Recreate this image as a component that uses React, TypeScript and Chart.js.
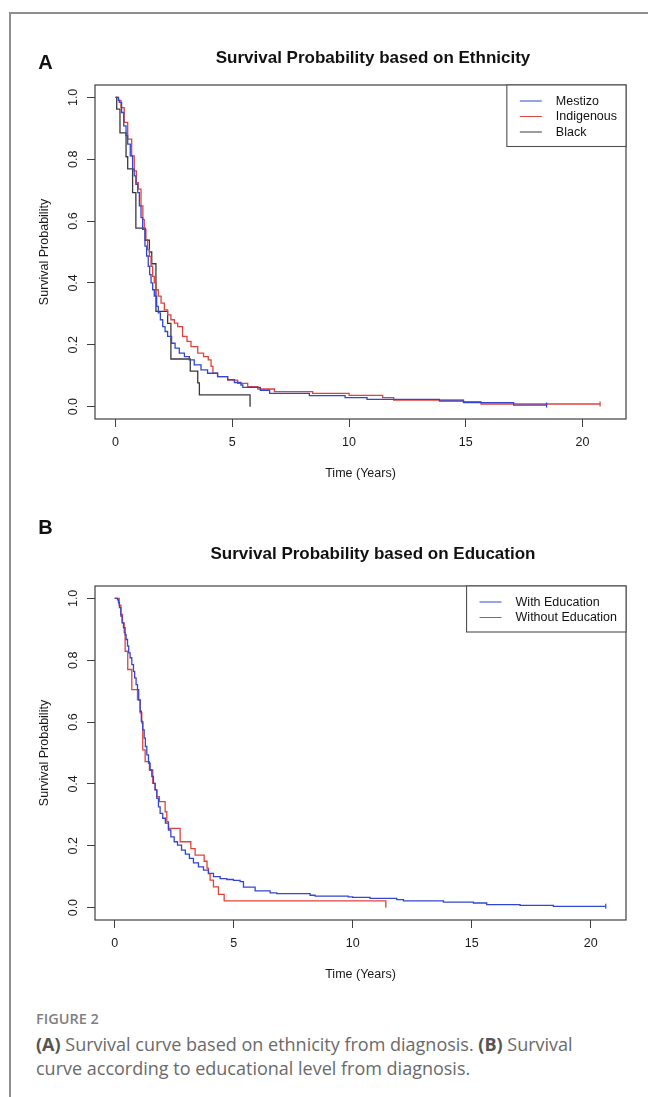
import React, { useEffect, useRef } from "react";
import { Chart, registerables } from "chart.js";

Chart.register(...registerables);

// ---------------- data ----------------
const xTickValues = [0, 5, 10, 15, 20];
const yTickValues = [0, 0.2, 0.4, 0.6, 0.8, 1.0];
const yTickLabels = ["0.0", "0.2", "0.4", "0.6", "0.8", "1.0"];

const panelATitle = "Survival Probability based on Ethnicity";
const panelBTitle = "Survival Probability based on Education";
const xAxisTitle = "Time (Years)";
const yAxisTitle = "Survival Probability";

const ethnicityLabels = ["Mestizo", "Indigenous", "Black"];
const educationLabels = ["With Education", "Without Education"];

// Panel A — Mestizo
const mestizoTime = [0, 0.12, 0.16, 0.26, 0.35, 0.45, 0.52, 0.63, 0.73, 0.8, 0.87, 0.95, 1.02, 1.09, 1.16, 1.26, 1.33, 1.4, 1.46, 1.52, 1.59, 1.66, 1.76, 1.83, 1.92, 2.02, 2.12, 2.23, 2.4, 2.55, 2.73, 2.95, 3.16, 3.37, 3.66, 3.94, 4.37, 4.8, 5.09, 5.37, 5.45, 6.2, 6.6, 8.3, 9.83, 10.77, 13.87, 14.9, 17.05, 18.46];
const mestizoSurv = [1, 0.99, 0.984, 0.951, 0.908, 0.876, 0.849, 0.811, 0.768, 0.746, 0.719, 0.692, 0.649, 0.611, 0.573, 0.519, 0.487, 0.454, 0.427, 0.4, 0.378, 0.357, 0.324, 0.303, 0.281, 0.259, 0.243, 0.227, 0.205, 0.189, 0.173, 0.162, 0.151, 0.135, 0.119, 0.108, 0.097, 0.087, 0.078, 0.07, 0.062, 0.053, 0.043, 0.0357, 0.029, 0.0236, 0.0182, 0.0127, 0.005, 0.005];

// Panel A — Indigenous
const indigenousTime = [0, 0.13, 0.23, 0.37, 0.52, 0.69, 0.8, 0.89, 0.97, 1.09, 1.17, 1.23, 1.3, 1.37, 1.45, 1.52, 1.59, 1.66, 1.73, 1.83, 1.95, 2.09, 2.23, 2.37, 2.52, 2.66, 2.87, 3.06, 3.23, 3.52, 3.77, 3.97, 4.09, 4.17, 4.37, 4.8, 5.23, 5.66, 6.09, 6.8, 8.44, 10.0, 11.44, 11.91, 14.9, 15.65, 20.75];
const indigenousSurv = [1, 0.99, 0.967, 0.919, 0.865, 0.811, 0.762, 0.724, 0.703, 0.649, 0.605, 0.573, 0.54, 0.508, 0.486, 0.454, 0.421, 0.4, 0.378, 0.357, 0.335, 0.313, 0.297, 0.281, 0.27, 0.259, 0.227, 0.211, 0.194, 0.173, 0.162, 0.151, 0.13, 0.108, 0.097, 0.086, 0.075, 0.065, 0.057, 0.0485, 0.043, 0.0367, 0.029, 0.0215, 0.016, 0.0085, 0.0085];

// Panel A — Black
const blackTime = [0, 0.05, 0.19, 0.45, 0.52, 0.73, 0.87, 1.27, 1.45, 1.55, 1.73, 2.23, 2.37, 3.2, 3.52, 3.59, 5.76];
const blackSurv = [1, 0.962, 0.885, 0.808, 0.769, 0.692, 0.577, 0.538, 0.5, 0.462, 0.308, 0.269, 0.154, 0.115, 0.077, 0.038, 0.0];

// Panel B — With Education
const withEduTime = [0, 0.05, 0.12, 0.16, 0.2, 0.26, 0.31, 0.37, 0.44, 0.48, 0.54, 0.59, 0.65, 0.72, 0.79, 0.84, 0.9, 0.96, 1.01, 1.07, 1.12, 1.18, 1.24, 1.29, 1.35, 1.42, 1.49, 1.56, 1.63, 1.7, 1.77, 1.84, 1.91, 2.02, 2.13, 2.26, 2.36, 2.5, 2.64, 2.81, 2.97, 3.14, 3.31, 3.52, 3.73, 3.94, 4.15, 4.43, 4.71, 4.99, 5.27, 5.41, 5.9, 6.53, 6.81, 8.21, 8.42, 9.81, 10.0, 10.73, 11.85, 12.13, 13.81, 15.07, 15.63, 17.03, 18.43, 20.63];
const withEduSurv = [1, 1, 0.995, 0.986, 0.97, 0.943, 0.921, 0.905, 0.883, 0.867, 0.846, 0.824, 0.808, 0.786, 0.764, 0.743, 0.721, 0.705, 0.672, 0.635, 0.602, 0.575, 0.548, 0.521, 0.494, 0.467, 0.445, 0.424, 0.402, 0.381, 0.353, 0.326, 0.305, 0.289, 0.273, 0.251, 0.229, 0.213, 0.202, 0.186, 0.173, 0.159, 0.145, 0.132, 0.121, 0.111, 0.1, 0.094, 0.091, 0.088, 0.084, 0.066, 0.054, 0.048, 0.045, 0.04, 0.037, 0.035, 0.033, 0.03, 0.026, 0.022, 0.018, 0.015, 0.01, 0.0074, 0.0043, 0.0043];

// Panel B — Without Education
const withoutEduTime = [0, 0.19, 0.26, 0.33, 0.4, 0.44, 0.55, 0.72, 0.96, 1.07, 1.14, 1.18, 1.28, 1.46, 1.6, 1.7, 1.77, 1.88, 2.12, 2.19, 2.26, 2.75, 3.2, 3.38, 3.76, 3.88, 3.94, 4.01, 4.15, 4.36, 4.6, 11.39];
const withoutEduSurv = [1, 0.978, 0.948, 0.921, 0.889, 0.829, 0.77, 0.705, 0.672, 0.63, 0.597, 0.51, 0.472, 0.445, 0.402, 0.381, 0.359, 0.343, 0.31, 0.278, 0.256, 0.213, 0.191, 0.17, 0.15, 0.128, 0.11, 0.089, 0.067, 0.043, 0.0216, 0.0];

// ---------------- styling ----------------
const FONT = '"Liberation Sans", Arial, Helvetica, sans-serif';
const BLUE = "#3346d3";
const RED = "#e2423c";
const BLACK = "#3a3a3a";
const AXIS = "#404040";

type Series = { label: string; time: number[]; surv: number[]; color: string; endMark: boolean };
type PanelDef = {
  letter: string;
  title: string;
  canvasTop: number;
  canvasHeight: number;
  plotTop: number;
  plotBottom: number;
  plotLeft: number;
  plotRight: number;
  xMin: number;
  xMax: number;
  letterY: number;
  titleX: number;
  titleY: number;
  xTitleY: number;
  series: Series[];
};

const panelA: PanelDef = {
  letter: "A",
  title: panelATitle,
  canvasTop: 0,
  canvasHeight: 500,
  plotTop: 85,
  plotBottom: 419,
  plotLeft: 95,
  plotRight: 626,
  xMin: -0.88,
  xMax: 21.86,
  letterY: 63,
  titleX: 373,
  titleY: 58,
  xTitleY: 474,
  series: [
    { label: ethnicityLabels[0], time: mestizoTime, surv: mestizoSurv, color: BLUE, endMark: true },
    { label: ethnicityLabels[1], time: indigenousTime, surv: indigenousSurv, color: RED, endMark: true },
    { label: ethnicityLabels[2], time: blackTime, surv: blackSurv, color: BLACK, endMark: false },
  ],
};

const panelB: PanelDef = {
  letter: "B",
  title: panelBTitle,
  canvasTop: 500,
  canvasHeight: 500,
  plotTop: 586,
  plotBottom: 920,
  plotLeft: 95,
  plotRight: 626,
  xMin: -0.826,
  xMax: 21.48,
  letterY: 528,
  titleX: 373,
  titleY: 554,
  xTitleY: 975,
  series: [
    { label: educationLabels[0], time: withEduTime, surv: withEduSurv, color: BLUE, endMark: true },
    { label: educationLabels[1], time: withoutEduTime, surv: withoutEduSurv, color: RED, endMark: false },
  ],
};

function decorPlugin(panel: PanelDef) {
  return {
    id: "decor" + panel.letter,
    afterDraw(chart: any) {
      const { ctx, chartArea: a, scales } = chart;
      const off = panel.canvasTop;
      const cx = (a.left + a.right) / 2;
      ctx.save();
      // plot box
      ctx.strokeStyle = AXIS;
      ctx.lineWidth = 1.2;
      ctx.strokeRect(a.left, a.top, a.right - a.left, a.bottom - a.top);

      // y tick labels (rotated, as in R)
      ctx.fillStyle = "#1a1a1a";
      ctx.font = `12.5px ${FONT}`;
      ctx.textAlign = "center";
      ctx.textBaseline = "alphabetic";
      yTickValues.forEach((v, i) => {
        const py = scales.y.getPixelForValue(v);
        ctx.save();
        ctx.translate(77.3, py);
        ctx.rotate(-Math.PI / 2);
        ctx.fillText(yTickLabels[i], 0, 0);
        ctx.restore();
      });

      // y axis title
      ctx.save();
      ctx.translate(47.5, (a.top + a.bottom) / 2);
      ctx.rotate(-Math.PI / 2);
      ctx.fillText(yAxisTitle, 0, 0);
      ctx.restore();

      // x axis title
      ctx.textBaseline = "middle";
      ctx.fillText(xAxisTitle, cx, panel.xTitleY - off);

      // main title
      ctx.font = `bold 17px ${FONT}`;
      ctx.fillStyle = "#111";
      ctx.fillText(panel.title, panel.titleX, panel.titleY - off);

      // panel letter
      ctx.font = `bold 20px ${FONT}`;
      ctx.fillText(panel.letter, 45.5, panel.letterY - off);

      // legend (top right, R style)
      const ds = chart.data.datasets;
      ctx.font = `12.5px ${FONT}`;
      const maxW = Math.max(...ds.map((d: any) => ctx.measureText(d.label).width));
      const boxRight = a.right;
      const textX = boxRight - 9 - maxW;
      const boxLeft = textX - 49;
      const boxTop = a.top;
      const rowY = (i: number) => boxTop + 16 + 15.5 * i;
      const boxBottom = rowY(ds.length - 1) + 14.5;
      ctx.fillStyle = "#fff";
      ctx.fillRect(boxLeft, boxTop, boxRight - boxLeft, boxBottom - boxTop);
      ctx.strokeStyle = "#505050";
      ctx.lineWidth = 1.1;
      ctx.strokeRect(boxLeft, boxTop, boxRight - boxLeft, boxBottom - boxTop);
      ctx.textAlign = "left";
      ctx.textBaseline = "middle";
      ds.forEach((d: any, i: number) => {
        const y = rowY(i);
        ctx.strokeStyle = d.borderColor;
        ctx.lineWidth = 1;
        ctx.beginPath();
        ctx.moveTo(textX - 36, y);
        ctx.lineTo(textX - 14, y);
        ctx.stroke();
        ctx.fillStyle = "#111";
        ctx.fillText(d.label, textX, y + 0.5);
      });
      ctx.restore();
    },
  };
}

function buildConfig(panel: PanelDef): any {
  const plotTopLocal = panel.plotTop - panel.canvasTop;
  const plotBottomLocal = panel.plotBottom - panel.canvasTop;
  const gridOpts = { drawOnChartArea: false, drawTicks: true, tickLength: 8, color: AXIS, lineWidth: 1 };
  return {
    type: "line",
    data: {
      datasets: panel.series.map((s) => ({
        label: s.label,
        data: s.time.map((t, i) => ({ x: t, y: s.surv[i] })),
        borderColor: s.color,
        backgroundColor: s.color,
        borderWidth: 1.3,
        stepped: "before",
        fill: false,
        pointStyle: "line",
        pointRotation: 90,
        pointBorderColor: s.color,
        pointBorderWidth: 1.2,
        pointRadius: s.time.map((_, i) => (s.endMark && i === s.time.length - 1 ? 2.5 : 0)),
      })),
    },
    options: {
      animation: false,
      responsive: false,
      maintainAspectRatio: false,
      events: [],
      layout: { padding: { top: plotTopLocal, right: 648 - panel.plotRight, left: 0, bottom: 0 } },
      plugins: { legend: { display: false }, tooltip: { enabled: false }, title: { display: false } },
      scales: {
        x: {
          type: "linear",
          position: "bottom",
          min: panel.xMin,
          max: panel.xMax,
          afterFit: (s: any) => {
            s.height = panel.canvasHeight - plotBottomLocal;
          },
          afterBuildTicks: (s: any) => {
            s.ticks = xTickValues.map((v) => ({ value: v }));
          },
          ticks: {
            color: "#1a1a1a",
            font: { family: FONT, size: 12.5 },
            padding: 8.5,
            maxRotation: 0,
            minRotation: 0,
            autoSkip: false,
            callback: (v: any) => String(v),
          },
          grid: gridOpts,
          border: { display: false },
        },
        y: {
          type: "linear",
          position: "left",
          min: -0.04,
          max: 1.04,
          afterFit: (s: any) => {
            s.width = panel.plotLeft;
          },
          afterBuildTicks: (s: any) => {
            s.ticks = yTickValues.map((v) => ({ value: v }));
          },
          ticks: { display: false },
          grid: gridOpts,
          border: { display: false },
        },
      },
    },
    plugins: [decorPlugin(panel)],
  };
}

function Panel({ panel }: { panel: PanelDef }) {
  const ref = useRef<HTMLCanvasElement>(null);
  useEffect(() => {
    const chart = new Chart(ref.current as HTMLCanvasElement, buildConfig(panel));
    return () => chart.destroy();
  }, [panel]);
  return (
    <canvas
      ref={ref}
      width={648}
      height={panel.canvasHeight}
      style={{ position: "absolute", left: 0, top: panel.canvasTop, width: 648, height: panel.canvasHeight }}
    />
  );
}

const figureLabel = "FIGURE 2";
const captionLine1 = [
  { text: "(A)", bold: true },
  { text: " Survival curve based on ethnicity from diagnosis. ", bold: false },
  { text: "(B)", bold: true },
  { text: " Survival", bold: false },
];
const captionLine2 = "curve according to educational level from diagnosis.";

export default function App() {
  return (
    <div style={{ position: "absolute", left: 0, top: 0, width: 648, height: 1097, background: "#fff", overflow: "hidden" }}>
      <div
        style={{
          position: "absolute",
          left: 9,
          top: 12,
          width: 700,
          height: 1200,
          borderLeft: "2px solid #8e8e8e",
          borderTop: "2px solid #8e8e8e",
          boxSizing: "border-box",
        }}
      />
      <Panel panel={panelA} />
      <Panel panel={panelB} />
      <div
        style={{
          position: "absolute",
          left: 36,
          top: 1010,
          fontFamily: '"Open Sans", sans-serif',
          fontSize: 14.5,
          fontWeight: 600,
          color: "#808080",
          lineHeight: "18px",
        }}
      >
        {figureLabel}
      </div>
      <div
        style={{
          position: "absolute",
          left: 36,
          top: 1032,
          width: 610,
          whiteSpace: "nowrap",
          fontFamily: '"Open Sans", sans-serif',
          fontSize: 18,
          color: "#6a6a6a",
          lineHeight: "24px",
        }}
      >
        <div>
          {captionLine1.map((p, i) => (
            <span key={i} style={{ fontWeight: p.bold ? 700 : 400, color: p.bold ? "#555" : undefined }}>
              {p.text}
            </span>
          ))}
        </div>
        <div>{captionLine2}</div>
      </div>
    </div>
  );
}
